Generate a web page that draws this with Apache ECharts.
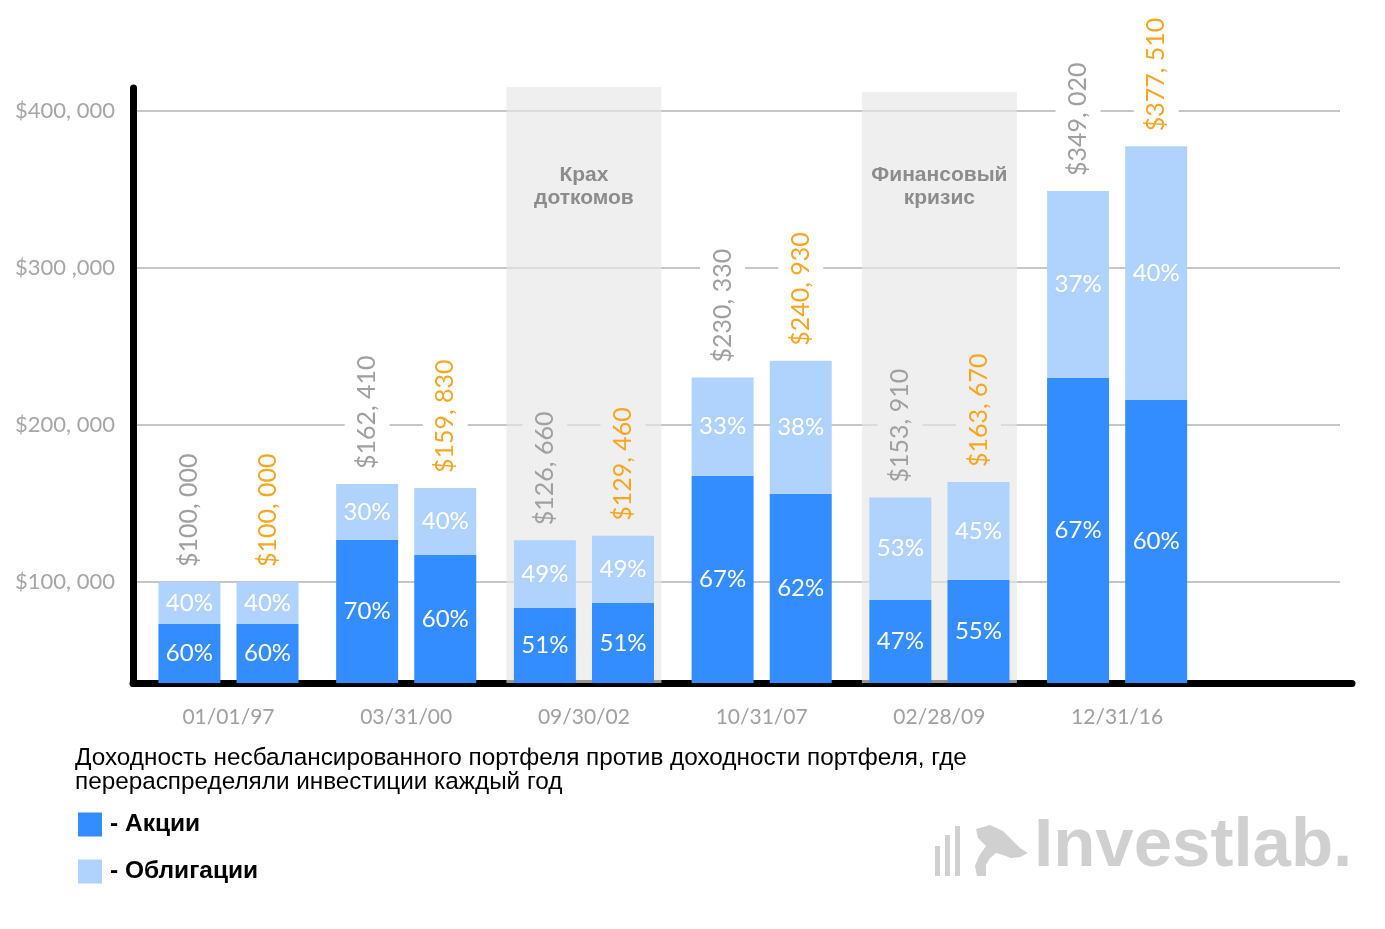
<!DOCTYPE html>
<html>
<head>
<meta charset="utf-8">
<script src="https://cdn.jsdelivr.net/npm/echarts@6/dist/echarts.min.js"></script>
<style>html,body{margin:0;padding:0;background:#fff}#c{width:1385px;height:929px}</style>
</head>
<body>
<div id="c"></div>
<script>
// ---- data ----
const categories = ['01/01/97', '03/31/00', '09/30/02', '10/31/07', '02/28/09', '12/31/16'];
const unbalancedTotal = [100000, 162410, 126660, 230330, 153910, 349020];
const rebalancedTotal = [100000, 159830, 129460, 240930, 163670, 377510];
const unbalancedStockTop = [73300, 126800, 83500, 167500, 88600, 230000];
const rebalancedStockTop = [73300, 117200, 86700, 156100, 101300, 215900];
const unbalancedStockPct = [60, 70, 51, 67, 47, 67];
const unbalancedBondPct = [40, 30, 49, 33, 53, 37];
const rebalancedStockPct = [60, 60, 51, 62, 55, 60];
const rebalancedBondPct = [40, 40, 49, 38, 45, 40];
const bandTop = [null, null, 415300, null, 412100, null];
const bandLabels = ['', '', 'Крах\nдоткомов', '', 'Финансовый\nкризис', ''];
const yTickValues = [100000, 200000, 300000, 400000];
const yTickLabels = ['$100, 000', '$200, 000', '$300 ,000', '$400, 000'];

// ---- styles ----
const STOCK = '#348dff', BOND = '#b0d3fd';
const GRAY = '#a0a0a0', ORANGE = '#f5a623';
const Y_MIN = 35700, Y_MAX = 415300;
const BAND_BG = '#efefef';

function money(v) {
  const s = String(v);
  return '$' + s.slice(0, s.length - 3) + ', ' + s.slice(s.length - 3);
}

const chart = echarts.init(document.getElementById('c'), null, {renderer: 'canvas'});

const pctLabel = arr => ({
  show: true, position: 'inside', color: '#fff', fontSize: 24, fontFamily: 'Lato',
  formatter: p => arr[p.dataIndex] + '%'
});

const valueLabelSeries = (stack, totals, color) => ({
  type: 'bar', name: 'value-' + stack, stack: stack, xAxisIndex: 0, yAxisIndex: 0,
  barWidth: 62, barGap: '26%', silent: true,
  itemStyle: {color: 'rgba(0,0,0,0)'},
  data: totals.map((t, i) => ({value: 0, label: {backgroundColor: bandTop[i] != null ? BAND_BG : '#fff'}})),
  label: {
    show: true, position: 'top', distance: 11, rotate: 90, align: 'left', verticalAlign: 'middle',
    fontSize: 25, fontFamily: 'Lato', color: color, padding: [10, 4, 10, 4],
    formatter: p => money(totals[p.dataIndex])
  },
  z: 3
});

const option = {
  animation: false,
  backgroundColor: '#fff',
  title: {
    text: 'Доходность несбалансированного портфеля против доходности портфеля, где\nперераспределяли инвестиции каждый год',
    left: 75, top: 746, padding: 0,
    textStyle: {fontSize: 24.3, lineHeight: 24, fontWeight: 'normal', fontFamily: 'Liberation Sans', color: '#000'}
  },
  legend: {
    data: ['Акции', 'Облигации'], orient: 'vertical', left: 78, top: 812, padding: 0,
    itemWidth: 24, itemHeight: 24, itemGap: 22, icon: 'rect', selectedMode: false,
    formatter: '- {name}',
    textStyle: {fontSize: 24.5, lineHeight: 24, fontWeight: 'bold', color: '#000', fontFamily: 'Liberation Sans', padding: [0, 0, 0, 3]}
  },
  grid: [
    {left: 139.6, right: 179, top: 87, bottom: 246},
    {left: 133, right: 45, top: 87, bottom: 246},
    {left: 133, right: 33, top: 88, bottom: 245.5}
  ],
  xAxis: [
    {type: 'category', gridIndex: 0, data: categories,
      axisLine: {show: false}, axisTick: {show: false},
      axisLabel: {interval: 0, margin: 24, fontSize: 21, color: GRAY, fontFamily: 'Lato'}},
    {type: 'category', gridIndex: 0, data: categories, show: false},
    {type: 'value', gridIndex: 1, show: false, min: 0, max: 1},
    {type: 'value', gridIndex: 2, min: 0, max: 1,
      axisLine: {show: true, onZero: false, lineStyle: {color: '#000', width: 7}},
      axisTick: {show: false}, axisLabel: {show: false}, splitLine: {show: false}}
  ],
  yAxis: [
    {type: 'value', gridIndex: 0, min: Y_MIN, max: Y_MAX, show: false},
    {type: 'value', gridIndex: 1, min: Y_MIN, max: Y_MAX,
      axisLine: {show: false},
      axisTick: {show: false, customValues: yTickValues},
      axisLabel: {customValues: yTickValues, margin: 18, fontSize: 22, color: '#a6a6a6', fontFamily: 'Lato',
        formatter: v => yTickLabels[yTickValues.indexOf(v)]},
      splitLine: {show: true, lineStyle: {color: '#c6c6c6', width: 2}}},
    {type: 'value', gridIndex: 2, min: 0, max: 1,
      axisLine: {show: true, onZero: false, lineStyle: {color: '#000', width: 7}},
      axisTick: {show: false}, axisLabel: {show: false}, splitLine: {show: false}}
  ],
  series: [
    {
      type: 'bar', name: 'band', xAxisIndex: 1, yAxisIndex: 0, barWidth: 155, silent: true, z: 1,
      itemStyle: {color: 'rgba(230,230,230,0.644)'},
      data: bandTop.map((v, i) => v == null ? null : {value: v, label: {distance: i === 2 ? 77 : 72}}),
      label: {
        show: true, position: 'insideTop', distance: 77, fontSize: 21, lineHeight: 23, fontWeight: 'bold',
        fontFamily: 'Liberation Sans', color: '#8c8c8c', formatter: p => bandLabels[p.dataIndex]
      }
    },
    {
      type: 'bar', name: 'Акции', stack: 'u', xAxisIndex: 0, yAxisIndex: 0, barWidth: 62, barGap: '26%',
      itemStyle: {color: STOCK}, data: unbalancedStockTop, label: pctLabel(unbalancedStockPct)
    },
    {
      type: 'bar', name: 'Облигации', stack: 'u', xAxisIndex: 0, yAxisIndex: 0, barWidth: 62, barGap: '26%',
      itemStyle: {color: BOND}, data: unbalancedTotal.map((t, i) => t - unbalancedStockTop[i]),
      label: pctLabel(unbalancedBondPct)
    },
    valueLabelSeries('u', unbalancedTotal, GRAY),
    {
      type: 'bar', name: 'Акции', stack: 'r', xAxisIndex: 0, yAxisIndex: 0, barWidth: 62, barGap: '26%',
      itemStyle: {color: STOCK}, data: rebalancedStockTop, label: pctLabel(rebalancedStockPct)
    },
    {
      type: 'bar', name: 'Облигации', stack: 'r', xAxisIndex: 0, yAxisIndex: 0, barWidth: 62, barGap: '26%',
      itemStyle: {color: BOND}, data: rebalancedTotal.map((t, i) => t - rebalancedStockTop[i]),
      label: pctLabel(rebalancedBondPct)
    },
    valueLabelSeries('r', rebalancedTotal, ORANGE)
  ],
  graphic: [
    {type: 'rect', shape: {x: 935, y: 846, width: 5, height: 30}, style: {fill: '#d0d0d0'}},
    {type: 'rect', shape: {x: 945, y: 835, width: 5, height: 41}, style: {fill: '#d0d0d0'}},
    {type: 'rect', shape: {x: 955, y: 826, width: 5, height: 50}, style: {fill: '#d0d0d0'}},
    {type: 'polygon', shape: {points: [[976,829],[990,825],[1003,831],[1012,840],[1020,848],[1028,853],[1020,857],[1011,858],[1003,855],[996,853],[990,858],[986,865],[986,876],[977,876],[975,866],[979,856],[986,846],[978,838]]},
      style: {fill: '#d0d0d0'}},
    {type: 'text', left: 1034, top: 812, style: {text: 'Investlab.', font: 'bold 69px "Liberation Sans"', fill: '#d0d0d0'}}
  ]
};

chart.setOption(option);
</script>
</body>
</html>
